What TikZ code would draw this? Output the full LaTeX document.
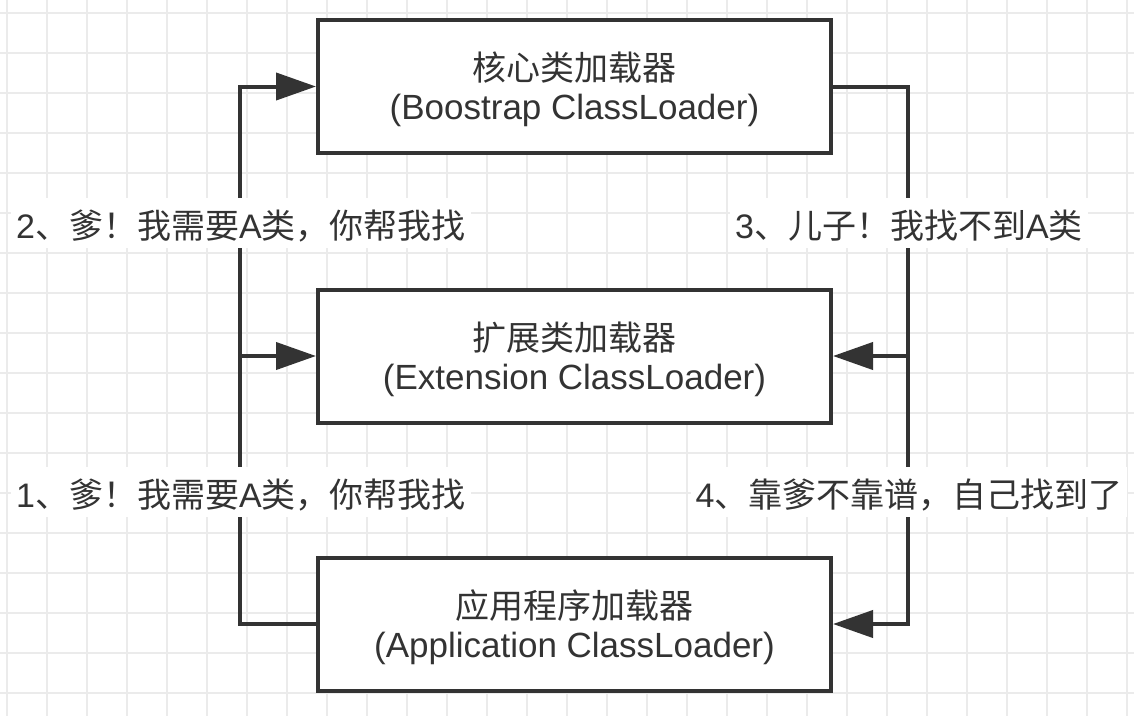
\documentclass[tikz,border=0pt]{standalone}
\usepackage{fontspec}
\setmainfont{Noto Sans CJK SC}
\newfontfamily\lat{Liberation Sans}
\usetikzlibrary{arrows.meta}
\definecolor{ink}{HTML}{333333}
\definecolor{gridc}{HTML}{EBEBEB}
\tikzset{
  loader/.style={draw=ink, line width=4pt, fill=white, minimum width=513pt, minimum height=133pt, inner sep=0pt},
  boxtext/.style={text=ink, font=\fontsize{34pt}{40pt}\selectfont, inner sep=0pt, anchor=base},
  boxlat/.style={text=ink, font=\lat\fontsize{35pt}{40pt}\selectfont, inner sep=0pt, anchor=base},
  conn/.style={draw=ink, line width=4pt},
  tip/.style={-{Triangle[length=40pt,width=27pt]}},
  msg/.style={fill=white, text=ink, font=\fontsize{34pt}{40pt}\selectfont, text height=40.5pt, text depth=9.5pt, inner xsep=5pt, inner ysep=0pt}
}
\begin{document}
\begin{tikzpicture}[x=1pt,y=-1pt]
\useasboundingbox (0,0) rectangle (1134,716);
\fill[white] (0,0) rectangle (1134,716);
\foreach \gx in {7,47,...,1127} \draw[gridc, line width=1.5pt] (\gx,0) -- (\gx,716);
\foreach \gy in {13,53,...,693} \draw[gridc, line width=1.5pt] (0,\gy) -- (1134,\gy);

\node[loader] (boot) at (574.5,86.5) {};
\node[loader] (ext) at (574.5,356) {};
\node[loader] (app) at (574.5,624) {};

\node[boxtext, yshift=6pt] (boot1) at (boot.center) {核心类加载器};
\node[boxlat, yshift=-33pt] (boot2) at (boot.center) {(Boostrap ClassLoader)};
\node[boxtext, yshift=6pt] (ext1) at (ext.center) {扩展类加载器};
\node[boxlat, yshift=-33pt] (ext2) at (ext.center) {(Extension ClassLoader)};
\node[boxtext, yshift=6pt] (app1) at (app.center) {应用程序加载器};
\node[boxlat, yshift=-33pt] (app2) at (app.center) {(Application ClassLoader)};

\coordinate (lx) at (240,0);
\coordinate (rx) at (908,0);

\draw[conn, tip] (app.west) -- (app.west -| lx) -- (boot.west -| lx) -- (boot.west);
\draw[conn, tip] (ext.west -| lx) -- (ext.west);
\draw[conn, tip] (boot.east) -- (boot.east -| rx) -- (app.east -| rx) -- (app.east);
\draw[conn, tip] (ext.east -| rx) -- (ext.east);

\node[msg] (m2) at (241,223) {{\lat 2}、爹！我需要{\lat A}类，你帮我找};
\node[msg] (m3) at (909,223) {{\lat 3}、儿子！我找不到{\lat A}类};
\node[msg] (m1) at (241,492) {{\lat 1}、爹！我需要{\lat A}类，你帮我找};
\node[msg] (m4) at (909,492) {{\lat 4}、靠爹不靠谱，自己找到了};
\end{tikzpicture}
\end{document}
